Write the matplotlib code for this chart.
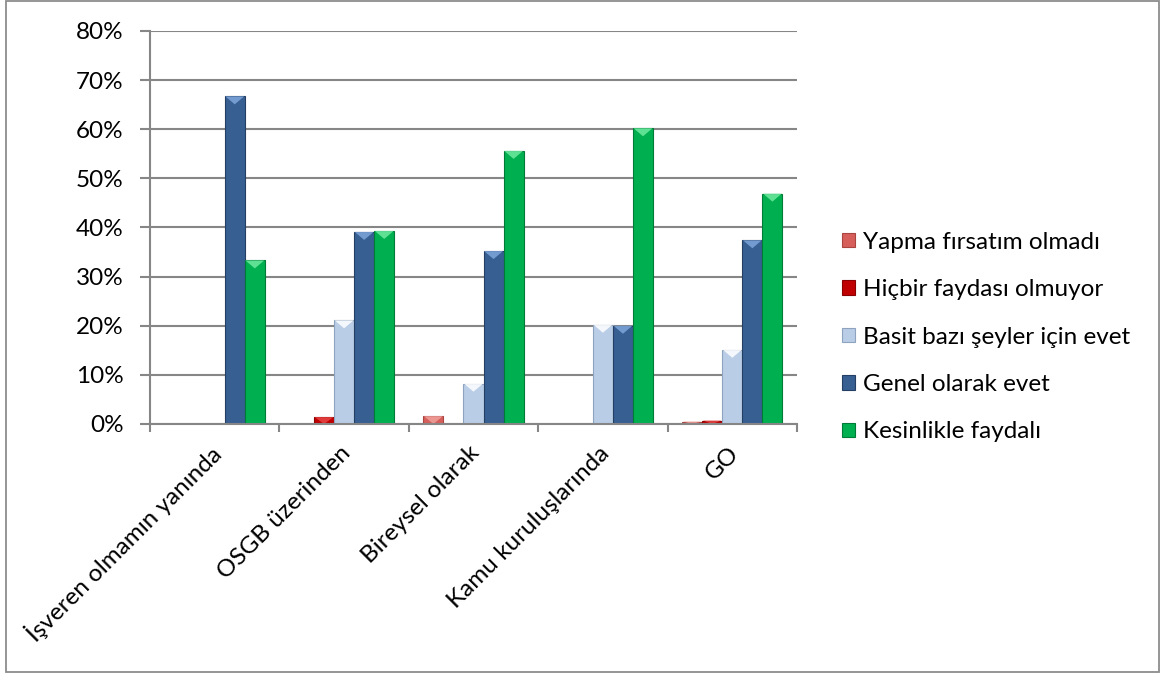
import matplotlib
matplotlib.use("Agg")
import matplotlib.pyplot as plt
from matplotlib.patches import Polygon, Rectangle
from matplotlib.ticker import FuncFormatter, MultipleLocator
import numpy as np

plt.rcParams['font.family'] = ['Lato', 'DejaVu Sans']

categories = ["İşveren olmamın yanında", "OSGB üzerinden", "Bireysel olarak",
              "Kamu kuruluşlarında", "GO"]
series_names = ["Yapma fırsatım olmadı", "Hiçbir faydası olmuyor",
                "Basit bazı şeyler için evet", "Genel olarak evet",
                "Kesinlikle faydalı"]
yapma = [0.0, 0.0, 1.6, 0.0, 0.5]
hicbir = [0.0, 1.4, 0.0, 0.0, 0.7]
basit = [0.0, 21.1, 8.2, 20.2, 15.1]
genel = [66.7, 39.1, 35.2, 20.0, 37.4]
kesinlikle = [33.3, 39.3, 55.6, 60.2, 46.9]

series_values = [yapma, hicbir, basit, genel, kesinlikle]
face_colors = ["#D65F5B", "#C00000", "#B9CDE6", "#375F92", "#00B050"]
edge_colors = ["#A94440", "#8A0000", "#8DA3BF", "#243F63", "#007A37"]
top_colors = ["#F0A09C", "#E84545", "#FFFFFF", "#7FA6DC", "#6FEAA0"]

FS = 17.5
W, H = 1166, 675
fig = plt.figure(figsize=(W / 100, H / 100), dpi=100)
ax = fig.add_axes([150 / W, 1 - 424 / H, (797 - 150) / W, (424 - 31) / H])

x = np.arange(len(categories))
bw = 0.155
offsets = (np.arange(len(series_values)) - 2) * bw

ax.set_xlim(-0.5, len(categories) - 0.5)
ax.set_ylim(0, 80)

# bevel triangle on each bar top, sized in pixels and converted to data units
ax_h_px = (424 - 31)
tri_data = 8 * 80 / ax_h_px

for vals, off, fc, ec, tc in zip(series_values, offsets, face_colors,
                                 edge_colors, top_colors):
    bars = ax.bar(x + off, vals, width=bw, color=fc, edgecolor=ec,
                  linewidth=0.8, zorder=3)
    for b in bars:
        h = b.get_height()
        if h <= 0:
            continue
        bx, bwid = b.get_x(), b.get_width()
        d = min(tri_data, h)
        tri = Polygon([(bx + 0.03 * bwid, h), (bx + 0.97 * bwid, h),
                       (bx + bwid / 2, h - d)], closed=True,
                      facecolor=tc, edgecolor='none', alpha=0.85, zorder=4)
        ax.add_patch(tri)

# axes styling
ax.yaxis.set_major_locator(MultipleLocator(10))
ax.yaxis.set_major_formatter(FuncFormatter(lambda v, p: f"{int(round(v))}%"))
ax.grid(axis='y', color='#868686', linewidth=1.5, zorder=0)
for side in ['top', 'right']:
    ax.spines[side].set_visible(False)
for side in ['left', 'bottom']:
    ax.spines[side].set_color('#868686')
    ax.spines[side].set_linewidth(1.5)
    ax.spines[side].set_zorder(5)

ax.tick_params(axis='y', length=7, width=1.5, color='#868686', labelsize=FS,
               pad=12, labelcolor='black')
ax.set_xticks(np.arange(len(categories) + 1) - 0.5)
ax.set_xticklabels([])
ax.tick_params(axis='x', length=6, width=1.5, color='#868686')

for i, lab in enumerate(categories):
    ax.annotate(lab, xy=(i, 0), xycoords='data', xytext=(2, -18.5),
                textcoords='offset points', rotation=45, ha='right',
                va='center', rotation_mode='anchor', fontsize=FS,
                annotation_clip=False)

# legend
handles = [Rectangle((0, 0), 1, 1, facecolor=fc, edgecolor=ec, linewidth=0.8)
           for fc, ec in zip(face_colors, edge_colors)]
fig.legend(handles, series_names, loc='center left',
           bbox_to_anchor=(842 / W, 1 - 337 / H), frameon=False, fontsize=FS,
           handlelength=0.55, handleheight=0.55, handletextpad=0.3,
           labelspacing=1.09, borderaxespad=0, borderpad=0)

# outer chart border
fig.patches.append(Rectangle((6 / W, 3 / H), (1159 - 6) / W, (674 - 3) / H,
                             transform=fig.transFigure, fill=False,
                             edgecolor='#8C8C8C', linewidth=1.3))

fig.savefig("out.png", dpi=100)
